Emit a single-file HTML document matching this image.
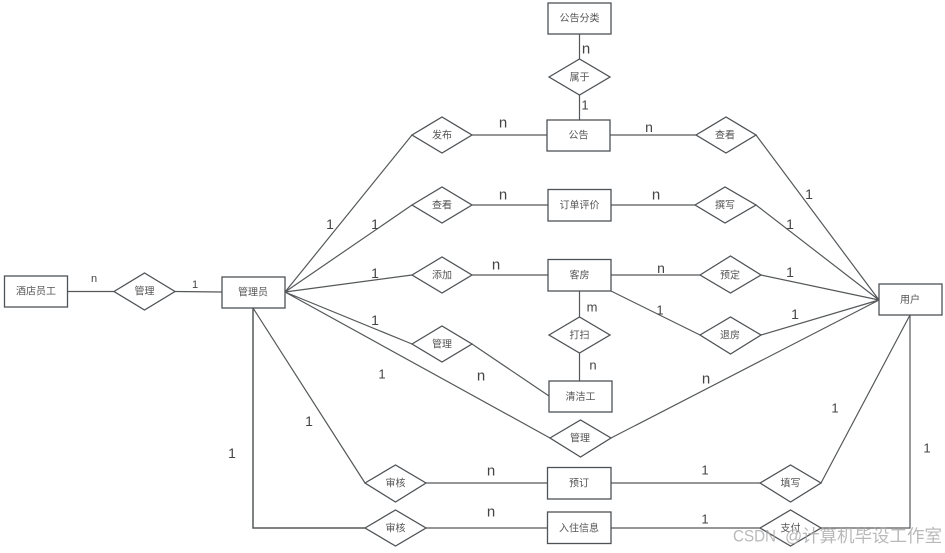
<!DOCTYPE html>
<html>
<head>
<meta charset="utf-8">
<style>
html,body{margin:0;padding:0;background:#fff;width:945px;height:553px;overflow:hidden}
svg{display:block;position:absolute;left:0;top:0}
.s{fill:#fff;stroke:#4f5356;stroke-width:1.3}
.l{fill:none;stroke:#55585a;stroke-width:1.2}
.t{font-family:"Liberation Sans","Noto Sans CJK SC",sans-serif;font-size:10px;fill:#555;text-anchor:middle;dominant-baseline:central}
.c{font-family:"Liberation Sans",sans-serif;fill:#444;text-anchor:middle;dominant-baseline:central}
.w{font-family:"Liberation Sans","Noto Sans CJK SC",sans-serif;fill:#a8a8a8;fill-opacity:.8;dominant-baseline:central}
</style>
</head>
<body>
<svg width="945" height="553" viewBox="0 0 945 553" xmlns="http://www.w3.org/2000/svg">
<g class="l">
<path d="M67 291.5H114M175 291.5L222 292"/>
<path d="M579.5 34V59M579.5 95V120"/>
<path d="M285 292L412 135M285 292L412 205M285 292L412 275M285 292L412 344M285 292L550 438"/>
<path d="M472 135H547M472 205H548M472 275H548"/>
<path d="M610 135H696M611 205H695M611 275H700M611 291L700 335"/>
<path d="M756 135L879 300M756 205L879 300M761 275L879 300M761 335L879 300M611 438L879 300"/>
<path d="M579.5 291V317M579.5 353V381"/>
<path d="M472 344L549 396"/>
<path d="M253 308L365 483"/>
<path d="M426 483H547.5M611 483H760M821 483L910 315"/>
<path d="M253 308V528H365" stroke-width="1.5"/>
<path d="M426 528H547.5M611 528H760M821 528H910V315"/>
</g>
<g class="s">
<rect x="4.500" y="276" width="63" height="31"/>
<rect x="222" y="277" width="63" height="31"/>
<rect x="548" y="3" width="63" height="31"/>
<rect x="547" y="120" width="63" height="31"/>
<rect x="548" y="189.500" width="63" height="31.500"/>
<rect x="548" y="259.500" width="63" height="31.500"/>
<rect x="549" y="381" width="63" height="31"/>
<rect x="547.500" y="467.500" width="63.500" height="31.500"/>
<rect x="547.500" y="512" width="63.500" height="31.500"/>
<rect x="879" y="284" width="63" height="31"/>
<path d="M114 291.500L144.500 273L175 291.500L144.500 310Z"/>
<path d="M549 77L579.500 59L610 77L579.500 95Z"/>
<path d="M412 135L442 117L472 135L442 153Z"/>
<path d="M412 205L442 187L472 205L442 223Z"/>
<path d="M412 275L442 257L472 275L442 293Z"/>
<path d="M412 344L442 326L472 344L442 362Z"/>
<path d="M549 335L579.500 317L610 335L579.500 353Z"/>
<path d="M550 438L580.500 420L611 438L580.500 457Z"/>
<path d="M365 483L395.500 465L426 483L395.500 502Z"/>
<path d="M365 528L395.500 510L426 528L395.500 546Z"/>
<path d="M696 135L726 117L756 135L726 153Z"/>
<path d="M695 205L725 187L756 205L725 223Z"/>
<path d="M700 275L730.500 256L761 275L730.500 293Z"/>
<path d="M700 335L730.500 317L761 335L730.500 354Z"/>
<path d="M760 483L790.500 465L821 483L790.500 502Z"/>
<path d="M760 528L790.500 510L821 528L790.500 546Z"/>
</g>
<g class="t">
<text x="36" y="292">酒店员工</text>
<text x="144.500" y="292">管理</text>
<text x="253" y="293">管理员</text>
<text x="579.500" y="19">公告分类</text>
<text x="579.500" y="78">属于</text>
<text x="578.500" y="136">公告</text>
<text x="442" y="136">发布</text>
<text x="442" y="206">查看</text>
<text x="579.500" y="206">订单评价</text>
<text x="442" y="276">添加</text>
<text x="579.500" y="276">客房</text>
<text x="579.500" y="336">打扫</text>
<text x="442" y="345">管理</text>
<text x="580.500" y="397.500">清洁工</text>
<text x="580" y="439">管理</text>
<text x="395.500" y="484">审核</text>
<text x="579" y="484">预订</text>
<text x="395.500" y="529">审核</text>
<text x="579" y="529">入住信息</text>
<text x="725" y="136">查看</text>
<text x="725" y="206">撰写</text>
<text x="730" y="276">预定</text>
<text x="730" y="336">退房</text>
<text x="910" y="300.500">用户</text>
<text x="790.500" y="484">填写</text>
<text x="790.500" y="529">支付</text>
</g>
<g class="c" font-size="14">
<text x="94" y="279" font-size="11">n</text>
<text x="195" y="285" font-size="11">1</text>
<text x="586" y="49" font-size="15">n</text>
<text x="585" y="105" font-size="13">1</text>
<text x="503" y="123" font-size="15">n</text>
<text x="503" y="195" font-size="15">n</text>
<text x="496" y="265" font-size="15">n</text>
<text x="649" y="127">n</text>
<text x="656" y="195" font-size="15">n</text>
<text x="661" y="268">n</text>
<text x="660" y="310" font-size="13">1</text>
<text x="592" y="307" font-size="13">m</text>
<text x="593" y="365" font-size="13">n</text>
<text x="481" y="376" font-size="15">n</text>
<text x="706" y="379" font-size="15">n</text>
<text x="491" y="471" font-size="15">n</text>
<text x="491" y="512" font-size="15">n</text>
<text x="330" y="224">1</text>
<text x="375" y="224">1</text>
<text x="375" y="273">1</text>
<text x="375" y="320">1</text>
<text x="382" y="374" font-size="13">1</text>
<text x="309" y="421">1</text>
<text x="232" y="453">1</text>
<text x="809" y="194">1</text>
<text x="790" y="224">1</text>
<text x="790" y="272">1</text>
<text x="795" y="314">1</text>
<text x="835" y="408" font-size="13">1</text>
<text x="705" y="470" font-size="13">1</text>
<text x="705" y="519" font-size="13">1</text>
<text x="927" y="448" font-size="13">1</text>
</g>
<text class="w" x="733" y="536" font-size="17" textLength="43" lengthAdjust="spacingAndGlyphs">CSDN</text>
<text class="w" x="785" y="536" font-size="17">@</text>
<text class="w" x="802" y="536" font-size="17.500">计算机毕设工作室</text>
</svg>
</body>
</html>
